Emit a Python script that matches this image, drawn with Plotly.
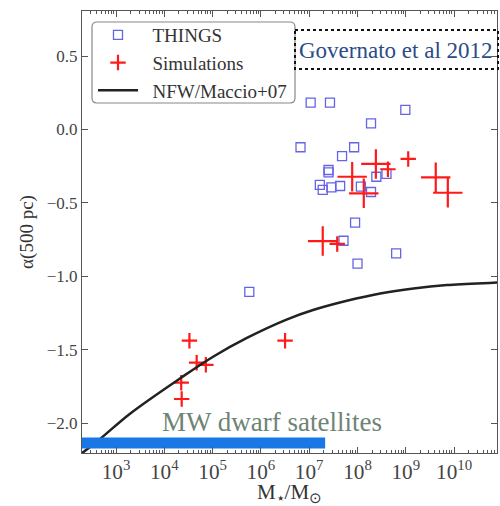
import numpy as np
import plotly.graph_objects as go

# THINGS galaxies: log10(M*/Msun), alpha(500 pc)
things_logm = [7.03, 7.43, 8.99, 8.28, 6.82, 7.93, 7.68, 7.40, 7.40, 8.39, 8.60,
               7.22, 7.28, 7.46, 7.64, 8.07, 8.28, 7.95, 7.71, 8.80, 8.00, 5.76]
things_alpha = [0.183, 0.183, 0.133, 0.042, -0.121, -0.121, -0.181, -0.276, -0.293, -0.322, -0.303,
                -0.378, -0.412, -0.394, -0.385, -0.390, -0.426, -0.635, -0.758, -0.844, -0.914, -1.107]

# Simulations (large crosses)
sim_big_logm = [8.38, 7.89, 8.13, 9.62, 9.87, 7.28]
sim_big_alpha = [-0.235, -0.322, -0.435, -0.326, -0.431, -0.760]
# Simulations (small crosses)
sim_small_logm = [8.63, 9.05, 7.58, 4.52, 4.67, 4.86, 4.35, 4.36, 6.50]
sim_small_alpha = [-0.271, -0.201, -0.780, -1.439, -1.589, -1.603, -1.725, -1.836, -1.439]

# NFW / Maccio+07 curve
nfw_logm = [2.30, 2.67, 3.29, 4.33, 5.01, 5.71, 6.53, 7.08, 7.78, 8.47, 9.16, 9.85, 10.81, 11.0]
nfw_alpha = [-2.204, -2.108, -1.936, -1.695, -1.548, -1.420, -1.295, -1.230, -1.167, -1.117,
             -1.083, -1.060, -1.044, -1.041]

# MW dwarf satellites band
mw_logm = [2.0, 7.33]
mw_alpha = [-2.136, -2.136]

x_range = [2.296, 10.888]
y_range = [-2.204, 0.807]

serif = "Liberation Serif, Times New Roman, serif"
tickfont = dict(family=serif, size=17, color="#444")
NB = "\u00a0\u00a0"

fig = go.Figure()

fig.add_trace(go.Scatter(
    x=[10 ** v for v in things_logm], y=things_alpha, mode="markers", name=NB + "THINGS",
    marker=dict(symbol="square-open", size=9, color="#6464e6", line=dict(width=1.3, color="#6464e6")),
    legendgroup="a"))

fig.add_trace(go.Scatter(
    x=[10 ** v for v in sim_small_logm], y=sim_small_alpha, mode="markers", name=NB + "Simulations",
    marker=dict(symbol="cross-thin", size=11, color="#ff1a1a", line=dict(width=2.2, color="#ff1a1a")),
    legendgroup="b"))

fig.add_trace(go.Scatter(
    x=[10 ** v for v in sim_big_logm], y=sim_big_alpha, mode="markers", name="Simulations",
    marker=dict(symbol="cross-thin", size=21, color="#ff1a1a", line=dict(width=2.2, color="#ff1a1a")),
    showlegend=False))

fig.add_trace(go.Scatter(
    x=[10 ** v for v in nfw_logm], y=nfw_alpha, mode="lines", name=NB + "NFW/Maccio+07",
    line=dict(color="#222", width=2.5, shape="spline", smoothing=1.0), legendgroup="c"))

fig.add_trace(go.Scatter(
    x=[10 ** v for v in mw_logm], y=mw_alpha, mode="lines",
    line=dict(color="#1a78e6", width=11), showlegend=False, hoverinfo="skip"))

fig.update_xaxes(
    type="log", range=x_range, dtick=1, exponentformat="power", showexponent="all",
    ticks="inside", ticklen=6, tickwidth=1, tickcolor="#555",
    minor=dict(ticks="inside", ticklen=3, tickcolor="#555", dtick="D1", showgrid=False),
    showline=True, linecolor="#555", linewidth=1, mirror="ticks",
    showgrid=False, zeroline=False, tickfont=tickfont,
    title=dict(text="M<sub>⋆</sub>/M<sub>⊙</sub>", font=dict(family=serif, size=21, color="#333"), standoff=6))

fig.update_yaxes(
    range=y_range, tickvals=[-2.0, -1.5, -1.0, -0.5, 0.0, 0.5], tickformat=".1f",
    ticks="inside", ticklen=6, tickwidth=1, tickcolor="#555",
    showline=True, linecolor="#555", linewidth=1, mirror="ticks",
    showgrid=False, zeroline=False, tickfont=tickfont,
    title=dict(text="α(500 pc)", font=dict(family=serif, size=19, color="#333"), standoff=8))

def px_x(x):
    return (x - 82) / 415.0

def px_y(y):
    return 1 - (y - 11) / 442.0

# Legend box (rounded)
x0, x1, y0, y1 = px_x(92), px_x(295), px_y(22), px_y(103)
rx, ry = 5 / 415.0, 5 / 442.0
path = (f"M{x0+rx},{y0} L{x1-rx},{y0} Q{x1},{y0} {x1},{y0-ry} L{x1},{y1+ry} Q{x1},{y1} {x1-rx},{y1} "
        f"L{x0+rx},{y1} Q{x0},{y1} {x0},{y1+ry} L{x0},{y0-ry} Q{x0},{y0} {x0+rx},{y0} Z")
fig.add_shape(type="path", path=path, xref="paper", yref="paper",
              line=dict(color="#888", width=1.2), fillcolor="rgba(255,255,255,0)")

# Governato box
fig.add_shape(type="rect", xref="paper", yref="paper",
              x0=px_x(295), x1=px_x(498), y0=px_y(30), y1=px_y(69),
              line=dict(color="#111", width=2, dash="dot"))
fig.add_annotation(x=px_x(396), y=px_y(50), xref="paper", yref="paper", showarrow=False,
                   xanchor="center", yanchor="middle",
                   text="Governato et al 2012", font=dict(family=serif, size=23, color="#2b4c86"))

fig.add_annotation(x=px_x(272), y=px_y(422), xref="paper", yref="paper", showarrow=False,
                   xanchor="center", yanchor="middle",
                   text="MW dwarf satellites", font=dict(family=serif, size=27, color="#6f8474"))

fig.update_layout(
    width=500, height=506,
    margin=dict(l=82, r=3, t=11, b=53),
    paper_bgcolor="white", plot_bgcolor="white",
    showlegend=True,
    legend=dict(x=px_x(93), y=px_y(16), xanchor="left", yanchor="top",
                bgcolor="rgba(0,0,0,0)", borderwidth=0, tracegroupgap=0, itemwidth=40,
                font=dict(family=serif, size=19, color="#333")),
)

fig.write_html("out.html")
